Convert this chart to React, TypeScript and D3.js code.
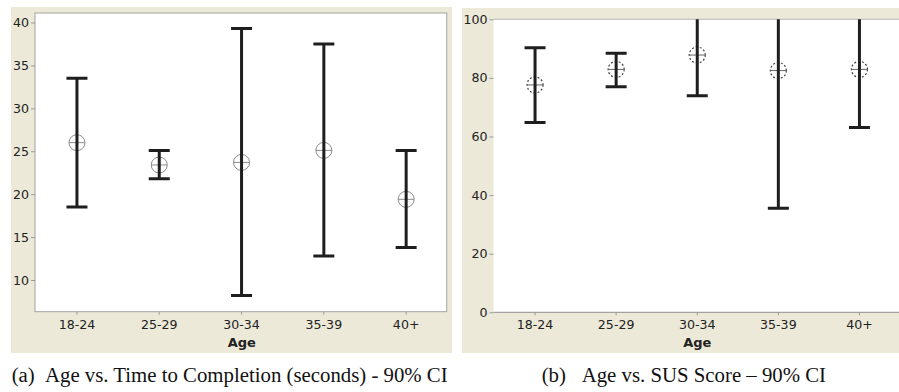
import React, { useEffect, useRef } from 'react'
import * as d3 from 'd3'

// Age groups on the x axis
const ageGroups = ['18-24', '25-29', '30-34', '35-39', '40+']

// (a) Time to completion, seconds - 90% CI
const timeMean = [26.0, 23.4, 23.7, 25.1, 19.4]
const timeLower = [18.5, 21.8, 8.2, 12.8, 13.8]
const timeUpper = [33.5, 25.1, 39.3, 37.5, 25.1]
const timeTicks = [10, 15, 20, 25, 30, 35, 40]

// (b) SUS score - 90% CI
const susMean = [77.6, 82.9, 87.8, 82.5, 82.9]
const susLower = [64.8, 77.0, 73.9, 35.5, 63.1]
const susUpper = [90.3, 88.4, 101.7, 129.5, 102.7]
const susTicks = [0, 20, 40, 60, 80, 100]

const captionA = ['(a)', 'Age vs. Time to Completion (seconds) - 90% CI']
const captionB = ['(b)', 'Age vs. SUS Score \u2013 90% CI']

const BEIGE = '#ece9d8'
const FONT = '"DejaVu Sans", Verdana, sans-serif'

interface PanelOpts {
  id: string
  bg: [number, number, number, number]
  plot: [number, number, number, number]
  bandRange: [number, number]
  yDomain: [number, number]
  yRange: [number, number]
  ticks: number[]
  mean: number[]
  lower: number[]
  upper: number[]
  dotted: boolean
  fullBorder: boolean
}

const App: React.FC = () => {
  const ref = useRef<SVGSVGElement | null>(null)

  useEffect(() => {
    if (!ref.current) return
    const svg = d3.select(ref.current)
    svg.selectAll('*').remove()

    const drawPanel = (o: PanelOpts) => {
      const [bx, by, bw, bh] = o.bg
      const [px0, py0, px1, py1] = o.plot
      const g = svg.append('g')

      g.append('rect').attr('x', bx).attr('y', by).attr('width', bw).attr('height', bh).attr('fill', BEIGE)
      g.append('rect').attr('x', px0).attr('y', py0).attr('width', px1 - px0).attr('height', py1 - py0).attr('fill', '#fff')

      g.append('clipPath').attr('id', o.id)
        .append('rect').attr('x', px0).attr('y', py0).attr('width', px1 - px0).attr('height', py1 - py0)

      const x = d3.scaleBand<string>().domain(ageGroups).range(o.bandRange).padding(0)
      const y = d3.scaleLinear().domain(o.yDomain).range(o.yRange)
      const cx = (d: string) => (x(d) as number) + x.bandwidth() / 2

      // borders
      if (o.fullBorder) {
        g.append('rect').attr('x', px0).attr('y', py0).attr('width', px1 - px0).attr('height', py1 - py0)
          .attr('fill', 'none').attr('stroke', '#a3a3a0').attr('stroke-width', 1)
      } else {
        g.append('line').attr('x1', px0).attr('x2', px1).attr('y1', py0).attr('y2', py0).attr('stroke', '#bdbbb0')
        g.append('line').attr('x1', px0).attr('x2', px1).attr('y1', py1).attr('y2', py1).attr('stroke', '#8f8f8f')
      }

      // y axis
      const yAxis = g.append('g')
        .attr('transform', `translate(${px0},0)`)
        .call(d3.axisLeft(y).tickValues(o.ticks).tickSize(4).tickPadding(2).tickFormat(d3.format('d')))
      yAxis.select('.domain').remove()
      yAxis.selectAll('line').attr('stroke', '#9a9a9a')
      yAxis.selectAll('text').attr('font-family', FONT).attr('font-size', 12.6).attr('fill', '#222')

      // x axis
      const xAxis = g.append('g')
        .attr('transform', `translate(0,${py1})`)
        .call(d3.axisBottom(x).tickSize(3).tickPadding(5))
      xAxis.select('.domain').remove()
      xAxis.selectAll('line').attr('stroke', '#9a9a9a')
      xAxis.selectAll('text').attr('font-family', FONT).attr('font-size', 12.6).attr('fill', '#222')

      g.append('text')
        .attr('x', (px0 + Math.min(px1, 899)) / 2 + 1)
        .attr('y', py1 + 35)
        .attr('text-anchor', 'middle')
        .attr('font-family', FONT).attr('font-size', 13).attr('font-weight', 'bold').attr('fill', '#222')
        .text('Age')

      // error bars
      const bars = g.append('g').attr('clip-path', `url(#${o.id})`)
      const capW = 10.5
      ageGroups.forEach((a, i) => {
        const xc = cx(a)
        const col = '#1e1e1e'
        // marker
        const m = bars.append('g')
        m.append('circle').attr('cx', xc).attr('cy', y(o.mean[i])).attr('r', 8)
          .attr('fill', 'none')
          .attr('stroke', o.dotted ? '#444' : '#8c8c8c')
          .attr('stroke-width', o.dotted ? 1.2 : 1)
          .attr('stroke-dasharray', o.dotted ? '2,2' : null)
        m.append('line').attr('x1', xc - 8).attr('x2', xc + 8).attr('y1', y(o.mean[i])).attr('y2', y(o.mean[i]))
          .attr('stroke', o.dotted ? '#666' : '#8c8c8c').attr('stroke-width', 1)
        if (!o.dotted) {
          m.append('line').attr('x1', xc).attr('x2', xc).attr('y1', y(o.mean[i]) - 8).attr('y2', y(o.mean[i]) + 8)
            .attr('stroke', '#8c8c8c').attr('stroke-width', 1)
        }
        bars.append('line').attr('x1', xc).attr('x2', xc)
          .attr('y1', y(o.lower[i])).attr('y2', y(o.upper[i]))
          .attr('stroke', col).attr('stroke-width', 3)
        ;[o.lower[i], o.upper[i]].forEach(v => {
          bars.append('line').attr('x1', xc - capW).attr('x2', xc + capW)
            .attr('y1', y(v)).attr('y2', y(v))
            .attr('stroke', col).attr('stroke-width', 3)
        })
      })
    }

    drawPanel({
      id: 'clipA',
      bg: [11, 7, 441, 346],
      plot: [35, 13, 446.7, 311.7],
      bandRange: [35.8, 447.3],
      yDomain: [10, 40],
      yRange: [280, 22.5],
      ticks: timeTicks,
      mean: timeMean,
      lower: timeLower,
      upper: timeUpper,
      dotted: false,
      fullBorder: true,
    })

    drawPanel({
      id: 'clipB',
      bg: [462, 8, 437, 345],
      plot: [493.5, 19.3, 900, 312.3],
      bandRange: [494.5, 900],
      yDomain: [0, 100],
      yRange: [312.3, 19.3],
      ticks: susTicks,
      mean: susMean,
      lower: susLower,
      upper: susUpper,
      dotted: true,
      fullBorder: false,
    })

    // captions
    const cap = (x0: number, x1: number, parts: string[]) => {
      svg.append('text').attr('x', x0).attr('y', 382)
        .attr('font-family', '"Liberation Serif", "Times New Roman", serif').attr('font-size', 20.8).attr('fill', '#111')
        .text(parts[0])
      svg.append('text').attr('x', x1).attr('y', 382)
        .attr('font-family', '"Liberation Serif", "Times New Roman", serif').attr('font-size', 20.8).attr('fill', '#111')
        .text(parts[1])
    }
    cap(11.7, 45, captionA)
    cap(541.7, 581.7, captionB)
  }, [])

  return (
    <div style={{ position: 'absolute', left: 0, top: 0 }}>
      <svg ref={ref} width={899} height={392} style={{ display: 'block', background: '#fff' }} />
    </div>
  )
}

export default App
